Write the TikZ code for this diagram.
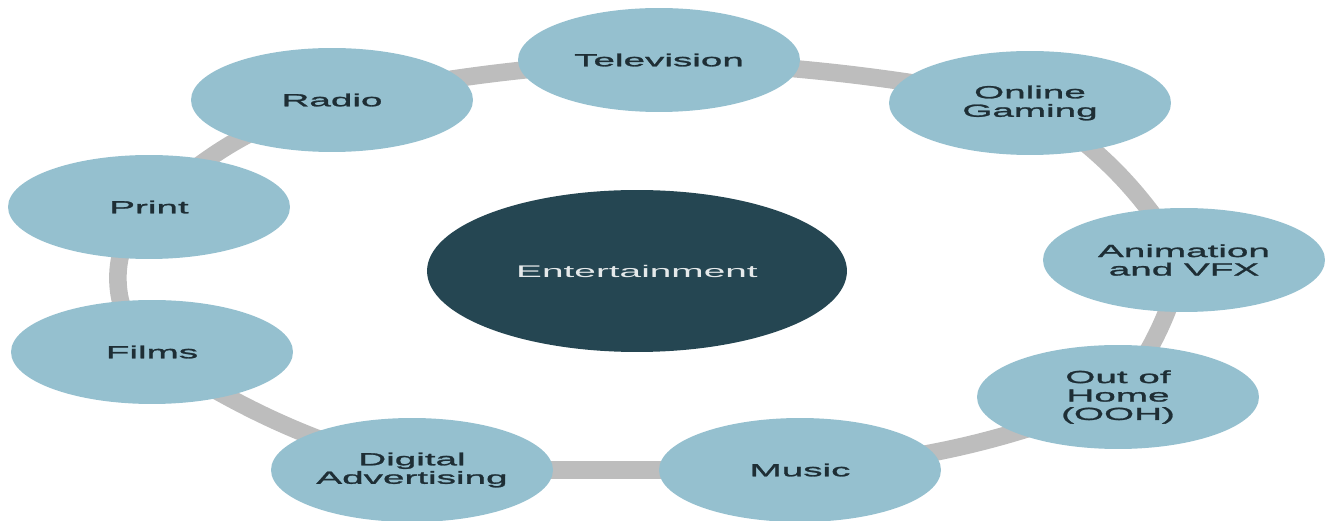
\documentclass[tikz,border=0pt]{standalone}
\usepackage{fontspec}
\usetikzlibrary{shapes.geometric,backgrounds}
\newfontfamily\bubblefont[FakeStretch=2.2,FakeBold=1.5]{Liberation Sans}
\newfontfamily\hubfont[FakeStretch=2.3]{Liberation Sans}
\definecolor{bubbleblue}{HTML}{95C0CF}
\definecolor{hubdark}{HTML}{254652}
\definecolor{ringgray}{HTML}{BDBDBD}
\definecolor{labeldark}{HTML}{1E2E35}

\begin{document}
\begin{tikzpicture}[x=0.02cm, y=0.02cm,
    bubble/.style={ellipse, fill=bubbleblue, inner sep=0pt,
      minimum width=5.64cm, minimum height=2.08cm, align=center,
      text=labeldark, font=\bubblefont\fontsize{10}{10.5}\selectfont},
    hub/.style={ellipse, fill=hubdark, inner sep=0pt,
      minimum width=8.4cm, minimum height=3.24cm,
      text=white!88!hubdark, font=\hubfont\fontsize{9.6}{11}\selectfont},
    ring/.style={draw=ringgray, line width=10pt}]
      \useasboundingbox (0,0) rectangle (1330,521);

      \node[hub] (ent) at (637,250) {Entertainment};

      \node[bubble] (tv)  at (659,461)  {Television};
      \node[bubble] (og)  at (1030,418) {Online\\Gaming};
      \node[bubble] (av)  at (1184,261) {Animation\\and VFX};
      \node[bubble] (ooh) at (1118,124) {Out of\\Home\\(OOH)};
      \node[bubble] (mu)  at (800,51)   {Music};
      \node[bubble] (da)  at (412,51)   {Digital\\Advertising};
      \node[bubble] (fi)  at (152,169)  {Films};
      \node[bubble] (pr)  at (149,314)  {Print};
      \node[bubble] (ra)  at (332,421)  {Radio};

      \begin{scope}[on background layer]
        \foreach \a/\b/\bnd in {tv/og/4, og/av/12, av/ooh/10, ooh/mu/8,
                                mu/da/0, da/fi/8, fi/pr/50, pr/ra/12, ra/tv/4}
        {
          \draw[ring] (\a.center) to[bend left=\bnd] (\b.center);
        }
      \end{scope}
    \end{tikzpicture}
\end{document}
